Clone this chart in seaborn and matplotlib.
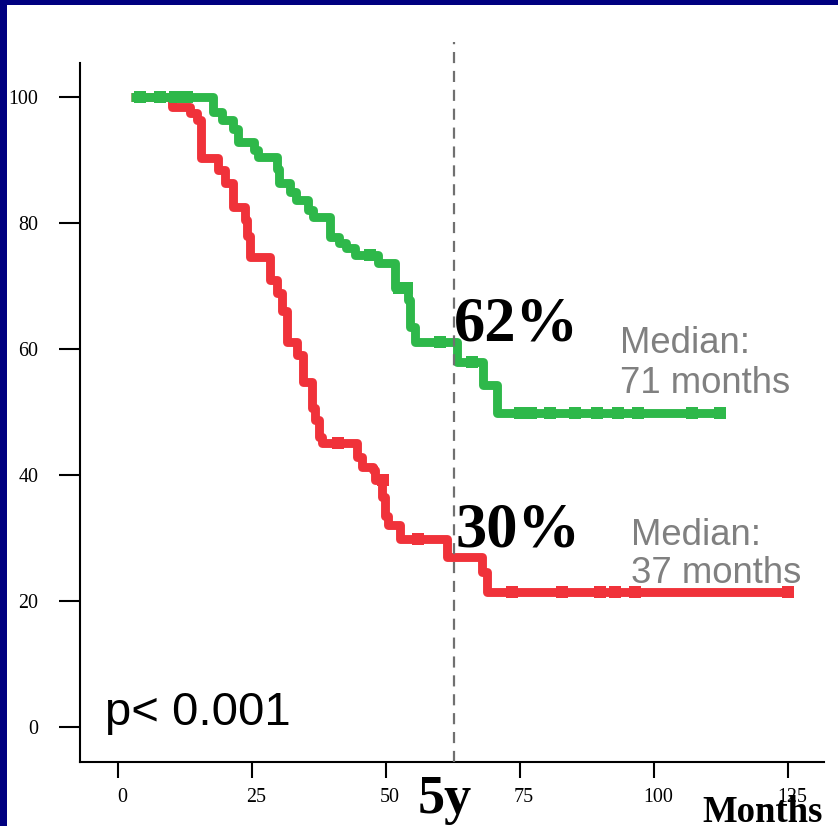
import matplotlib
matplotlib.use("Agg")
import matplotlib.pyplot as plt
import matplotlib.transforms as mtransforms
from matplotlib.patches import Rectangle
import numpy as np
import pandas as pd
import seaborn as sns

# ---- data ----
green_t = [2.5, 17.7, 19.4, 21.5, 22.4, 25.4, 26.1, 29.7, 30.0, 32.1, 33.2, 35.4, 36.4,
           39.6, 41.2, 42.5, 44.2, 48.5, 51.7, 54.1, 54.5, 55.4, 63.2, 68.1, 70.7, 112.3]
green_s = [100, 97.6, 96.3, 95.0, 92.9, 91.6, 90.5, 88.5, 86.3, 84.9, 83.7, 82.0, 81.0,
           77.8, 76.8, 76.0, 75.0, 73.6, 69.7, 67.8, 63.5, 61.1, 58.0, 54.3, 49.8, 49.8]
green_cens_t = [4.1, 7.8, 10.6, 12.9, 47.0, 52.5, 54.0, 60.0, 66.0,
                75.0, 77.0, 80.6, 85.3, 89.4, 93.3, 97.0, 107.0, 112.3]
green_cens_s = [100, 100, 100, 100, 75.0, 69.7, 69.7, 61.1, 58.0,
                49.8, 49.8, 49.8, 49.8, 49.8, 49.8, 49.8, 49.8, 49.8]

red_t = [2.5, 10.0, 13.4, 14.7, 15.5, 18.7, 20.0, 21.5, 23.7, 24.1, 24.6, 28.4, 29.7,
         30.6, 31.5, 33.4, 34.5, 36.2, 36.8, 37.5, 38.0, 44.6, 45.5, 47.6, 47.9, 49.3,
         49.8, 50.4, 52.6, 61.4, 67.9, 68.8, 125.0]
red_s = [100, 98.4, 97.5, 96.3, 90.3, 88.4, 86.3, 82.5, 80.5, 78.0, 74.6, 71.0, 68.9,
         66.0, 61.1, 59.0, 54.8, 50.6, 48.7, 46.0, 45.1, 42.9, 41.3, 40.8, 39.2, 36.5,
         33.5, 32.1, 29.8, 27.0, 24.6, 21.4, 21.4]
red_cens_t = [41.0, 49.5, 56.0, 73.5, 82.8, 89.9, 92.7, 96.5, 125.0]
red_cens_s = [45.1, 39.2, 29.8, 21.4, 21.4, 21.4, 21.4, 21.4, 21.4]

x_ticks = [0, 25, 50, 75, 100, 125]
y_ticks = [0, 20, 40, 60, 80, 100]
five_year_line = 62.7

GREEN = "#2EB84A"
RED = "#F0323A"
GRAY = "#808080"

curves = pd.DataFrame({
    "t": red_t + green_t,
    "s": red_s + green_s,
    "grp": ["red"] * len(red_t) + ["green"] * len(green_t),
})
cens = pd.DataFrame({
    "t": red_cens_t + green_cens_t,
    "s": red_cens_s + green_cens_s,
    "grp": ["red"] * len(red_cens_t) + ["green"] * len(green_cens_t),
})

sns.set_style("ticks")
plt.rcParams["font.family"] = ["Liberation Serif", "DejaVu Serif"]

W, H = 838, 826
fig = plt.figure(figsize=(W / 100, H / 100), dpi=100)
fig.patch.set_facecolor("white")
ax = fig.add_axes([80 / W, 1 - 762 / H, (824 - 80) / W, (762 - 63) / H])

pal = {"red": RED, "green": GREEN}
sns.lineplot(data=curves, x="t", y="s", hue="grp", hue_order=["red", "green"],
             palette=pal, estimator=None, sort=False, drawstyle="steps-post",
             linewidth=6.4, legend=False, ax=ax)
for grp, z in (("red", 2.5), ("green", 3.5)):
    sub = cens[cens["grp"] == grp]
    ax.scatter(sub["t"], sub["s"], marker="s", s=68, color=pal[grp],
               linewidths=0, zorder=z)
for ln, z in zip(ax.get_lines(), (2, 3)):
    ln.set_zorder(z)
    ln.set_solid_joinstyle("round")
    ln.set_solid_capstyle("butt")

ax.plot([five_year_line, five_year_line], [-5.56, 108.7], color="#707070",
        linewidth=1.6, dashes=(5, 3.5), clip_on=False, zorder=5)

ax.set_xlim(-7.09, 131.7)
ax.set_ylim(-5.56, 105.4)
ax.set_xticks(x_ticks)
ax.set_xticklabels([str(v) for v in x_ticks])
ax.set_yticks(y_ticks)
ax.set_yticklabels([str(v) for v in y_ticks])
ax.set_xlabel("")
ax.set_ylabel("")
sns.despine(ax=ax)
for sp in ("left", "bottom"):
    ax.spines[sp].set_linewidth(1.5)
    ax.spines[sp].set_color("black")
ax.tick_params(axis="x", length=11.5, width=1.5, pad=7, labelsize=14.4, colors="black")
ax.tick_params(axis="y", length=15, width=1.5, pad=15, labelsize=14.4, colors="black")
off = mtransforms.ScaledTranslation(4 / 100, 0, fig.dpi_scale_trans)
for lab in ax.get_xticklabels():
    lab.set_transform(lab.get_transform() + off)

serif_bold = dict(family=["Liberation Serif", "DejaVu Serif"], weight="bold", color="black")
sans = ["Liberation Sans", "DejaVu Sans"]

ax.text(62.6, 61.4, "62%", fontsize=45, ha="left", va="baseline", zorder=6, **serif_bold)
ax.text(63.0, 28.6, "30%", fontsize=45, ha="left", va="baseline", zorder=6, **serif_bold)
ax.text(93.7, 59.4, "Median:", fontsize=26.3, color=GRAY, family=sans, ha="left", va="baseline")
ax.text(93.7, 53.0, "71 months", fontsize=26.3, color=GRAY, family=sans, ha="left", va="baseline")
ax.text(95.7, 28.9, "Median:", fontsize=26.3, color=GRAY, family=sans, ha="left", va="baseline")
ax.text(95.7, 22.9, "37 months", fontsize=26.3, color=GRAY, family=sans, ha="left", va="baseline")
ax.text(-2.4, 0.3, "p< 0.001", fontsize=34, color="black", family=sans, ha="left", va="baseline")

fig.text(418 / W, 1 - 813 / H, "5y", fontsize=39, ha="left", va="baseline", **serif_bold)
fig.text(702 / W, 1 - 822 / H, "Months", fontsize=26.5, ha="left", va="baseline", **serif_bold)

# navy frame (left and top)
fig.patches.append(Rectangle((0, 0), 7 / W, 1, transform=fig.transFigure,
                             facecolor="#000080", edgecolor="none", zorder=10))
fig.patches.append(Rectangle((0, 1 - 5 / H), 1, 5 / H, transform=fig.transFigure,
                             facecolor="#000080", edgecolor="none", zorder=10))

fig.savefig("out.png", dpi=100)
